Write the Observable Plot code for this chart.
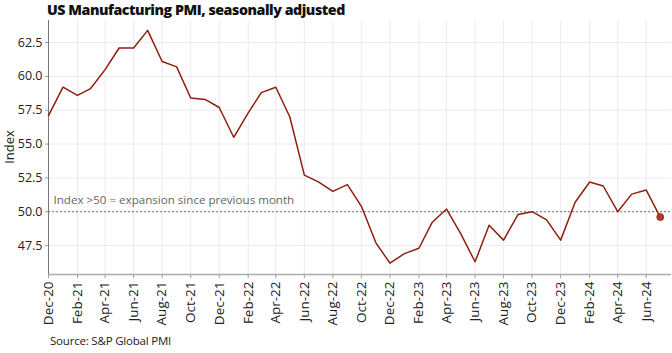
<!DOCTYPE html>
<html>
<head>
<meta charset="utf-8">
<script src="https://cdn.jsdelivr.net/npm/d3@7"></script>
<script src="https://cdn.jsdelivr.net/npm/@observablehq/plot@0.6"></script>
<style>
  html, body { margin: 0; padding: 0; background: #fff; }
  #wrap { position: relative; width: 672px; height: 353px; overflow: hidden; font-family: "Open Sans", sans-serif; }
  #title { position: absolute; left: 47px; top: 0px; font-size: 14.2px; font-weight: 800; color: #111; letter-spacing: -0.45px; white-space: nowrap; }
  #caption { position: absolute; left: 50px; top: 333px; font-size: 11.5px; color: #222; letter-spacing: -0.2px; white-space: nowrap; }
  #chart { position: absolute; left: 0; top: 0; }
</style>
</head>
<body>
<div id="wrap">
  <div id="chart"></div>
  <div id="title">US Manufacturing PMI, seasonally adjusted</div>
  <div id="caption">Source: S&amp;P Global PMI</div>
</div>
<script>
const months = [
  "2020-12","2021-01","2021-02","2021-03","2021-04","2021-05","2021-06","2021-07","2021-08","2021-09","2021-10","2021-11",
  "2021-12","2022-01","2022-02","2022-03","2022-04","2022-05","2022-06","2022-07","2022-08","2022-09","2022-10","2022-11",
  "2022-12","2023-01","2023-02","2023-03","2023-04","2023-05","2023-06","2023-07","2023-08","2023-09","2023-10","2023-11",
  "2023-12","2024-01","2024-02","2024-03","2024-04","2024-05","2024-06","2024-07"
];
const pmi = [
  57.1, 59.2, 58.6, 59.1, 60.5, 62.1, 62.1, 63.4, 61.1, 60.7, 58.4, 58.3,
  57.7, 55.5, 57.3, 58.8, 59.2, 57.0, 52.7, 52.2, 51.5, 52.0, 50.4, 47.7,
  46.2, 46.9, 47.3, 49.2, 50.2, 48.4, 46.3, 49.0, 47.9, 49.8, 50.0, 49.4,
  47.9, 50.7, 52.2, 51.9, 50.0, 51.3, 51.6, 49.6
];
const xTickLabels = ["Dec-20","Feb-21","Apr-21","Jun-21","Aug-21","Oct-21","Dec-21","Feb-22","Apr-22","Jun-22","Aug-22","Oct-22","Dec-22","Feb-23","Apr-23","Jun-23","Aug-23","Oct-23","Dec-23","Feb-24","Apr-24","Jun-24"];
const yTicks = [47.5, 50.0, 52.5, 55.0, 57.5, 60.0, 62.5];
const threshold = 50;
const annotation = "Index >50 = expansion since previous month";
const yDomain = [45.36, 64.13];
const xDomain = ["2020-12-01", "2024-07-25"];

const parseMonth = d3.utcParse("%Y-%m");
const parseDay = d3.utcParse("%Y-%m-%d");
const parseTick = d3.utcParse("%b-%y");
const fmt = d3.utcFormat("%b-%y");

const data = months.map((m, i) => ({date: parseMonth(m), value: pmi[i]}));
const last = data[data.length - 1];
const xTicks = xTickLabels.map(parseTick);
const lineColor = "#8e1f0f";

const chart = Plot.plot({
  width: 672,
  height: 330,
  marginTop: 20,
  marginBottom: 56,
  marginLeft: 48,
  marginRight: 1,
  style: {fontFamily: "'Open Sans', sans-serif", fontSize: "12px", color: "#333", background: "transparent"},
  x: {type: "utc", domain: xDomain.map(parseDay)},
  y: {domain: yDomain},
  marks: [
    Plot.gridX(xTicks, {stroke: "#ececec", strokeOpacity: 1}),
    Plot.gridY(yTicks, {stroke: "#ececec", strokeOpacity: 1}),
    Plot.ruleY([threshold], {stroke: "#555", strokeWidth: 0.8, strokeDasharray: "2,2"}),
    Plot.text([annotation], {x: () => parseMonth(months[0]), y: threshold, dx: 5, dy: -11, textAnchor: "start", fill: "#666", fontSize: 11.6}),
    Plot.axisX(xTicks, {tickRotate: -90, tickFormat: fmt, tickSize: 4, tickPadding: 3, fontSize: 13.5, fill: "#222", stroke: "#999", label: null}),
    Plot.axisY(yTicks, {tickFormat: d3.format(".1f"), tickSize: 3, tickPadding: 3, fontSize: 12.5, fill: "#222", stroke: "#999", label: null}),
    Plot.ruleX([parseDay(xDomain[0])], {stroke: "#777", strokeWidth: 1}),
    Plot.ruleY([yDomain[0]], {stroke: "#aaa", strokeWidth: 1.5}),
    Plot.lineY(data, {x: "date", y: "value", stroke: lineColor, strokeWidth: 1.5}),
    Plot.dot([last], {x: "date", y: "value", r: 3.5, fill: "#a8402a", stroke: "#8e1f0f", strokeWidth: 0.8})
  ]
});
document.getElementById("chart").appendChild(chart);

// y-axis title
const svg = d3.select(chart);
svg.append("text")
  .attr("transform", "translate(14,147) rotate(-90)")
  .attr("text-anchor", "middle")
  .attr("font-family", "'Open Sans', sans-serif")
  .attr("font-size", 13)
  .attr("fill", "#222")
  .text("Index");
</script>
</body>
</html>
